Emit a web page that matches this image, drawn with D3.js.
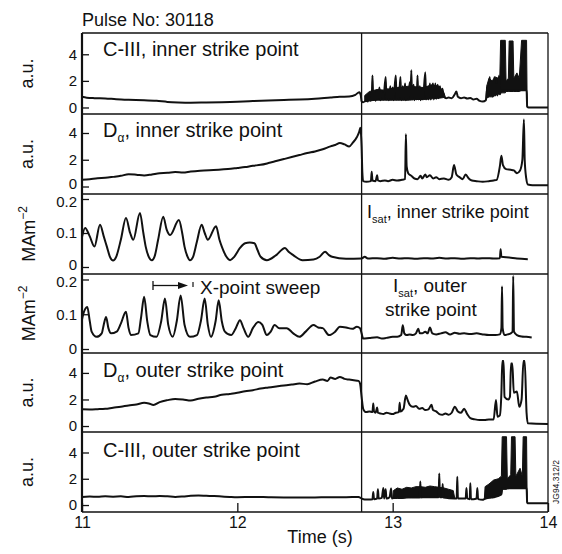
<!DOCTYPE html>
<html><head><meta charset="utf-8">
<script src="https://cdn.jsdelivr.net/npm/d3@7"></script>
<style>
body{margin:0;background:#fff}
svg{display:block}
text{font-family:"Liberation Sans",Arial,Helvetica,sans-serif;fill:#111}
</style>
</head><body>
<svg id="chart" width="562" height="554"></svg>
<script>
// ---------------- DATA (time in s, value) ----------------
const timeTicks = [11, 12, 13, 14];
const auTicks = [0, 2, 4];
const isatTicks = [0, 0.1, 0.2];
const transitionTime = 12.8;

const ciiiInner = [[11.00,0.80],[11.03,0.74],[11.08,0.70],[11.15,0.68],[11.22,0.62],[11.30,0.58],[11.40,0.55],[11.48,0.50],[11.55,0.42],[11.62,0.38],[11.70,0.36],[11.80,0.38],[11.90,0.40],[12.00,0.44],[12.10,0.48],[12.20,0.52],[12.30,0.56],[12.40,0.60],[12.50,0.66],[12.60,0.75],[12.66,0.80],[12.72,0.82],[12.76,0.95],[12.785,1.15],[12.795,0.90],[12.80,0.45],[12.81,0.40],
[12.83,0.50],[12.84,0.45],[12.85,0.90],[12.855,0.50],[12.865,0.60],[12.87,2.40],[12.875,0.60],[12.885,1.20],[12.89,0.50],[12.90,1.30],[12.905,0.60],[12.915,1.50],[12.92,0.55],[12.93,1.20],[12.94,0.60],[12.955,2.30],[12.96,0.60],[12.97,1.40],[12.975,0.55],[12.985,1.60],[12.99,0.60],[13.00,1.50],[13.005,0.55],[13.02,2.40],[13.025,0.60],[13.035,1.50],[13.04,0.60],[13.05,2.30],[13.055,0.55],[13.065,1.60],[13.07,0.60],[13.08,1.80],[13.085,0.55],[13.095,1.40],[13.10,0.60],[13.11,1.90],[13.115,0.60],[13.12,2.80],[13.125,0.60],[13.135,1.70],[13.14,0.55],[13.15,1.50],[13.155,0.60],[13.16,2.40],[13.165,0.60],[13.175,1.60],[13.18,0.55],[13.19,1.40],[13.195,0.60],[13.21,2.65],[13.215,0.60],[13.225,1.50],[13.23,0.60],[13.24,1.80],[13.245,0.60],[13.255,1.50],[13.26,1.80],[13.265,0.60],[13.275,1.80],[13.28,0.65],[13.29,1.70],[13.295,0.70],[13.305,1.60],[13.31,0.80],[13.32,1.40],[13.33,0.80],[13.345,0.70],[13.36,0.75],[13.38,0.70],[13.40,1.00],[13.41,1.20],[13.42,0.80],[13.44,0.70],[13.46,0.75],[13.48,0.68],[13.50,0.72],[13.52,0.60],[13.54,0.65],[13.56,0.50],[13.58,0.45],[13.60,0.55],[13.61,1.50],[13.615,0.80],[13.625,2.30],[13.63,0.90],[13.64,2.00],[13.645,0.80],[13.655,2.30],[13.66,0.90],[13.67,1.80],[13.675,0.90],[13.685,2.40],[13.69,1.00],[13.70,1.30],[13.862,1.30],[13.866,0.05],[13.875,0.00],[14.00,0.00]];
const ciiiInnerBand = [[12.82,0.50,0.90],[12.85,0.50,1.20],[12.90,0.55,1.35],[12.95,0.55,1.30],[13.00,0.55,1.45],[13.05,0.55,1.50],[13.10,0.55,1.60],[13.15,0.60,1.55],[13.20,0.60,1.50],[13.25,0.65,1.70],[13.30,0.70,1.60],[13.33,0.75,1.10],[13.34,0.75,0.75],null,
[13.600,0.55,0.55],[13.605,0.70,1.60],[13.62,0.80,2.20],[13.64,0.80,2.00],[13.66,0.90,2.30],[13.68,1.00,2.20],[13.69,1.00,2.40],[13.695,1.10,5.05],[13.725,1.10,5.05],[13.73,1.20,2.00],[13.745,1.20,2.20],[13.75,1.20,5.00],[13.775,1.20,5.00],[13.78,1.20,2.20],[13.80,1.20,2.60],[13.815,1.20,2.20],[13.83,1.30,5.05],[13.862,1.30,5.05],[13.866,0.05,0.05]];

const dalphaInner = [[11.00,0.50],[11.05,0.55],[11.10,0.62],[11.15,0.65],[11.20,0.72],[11.25,0.80],[11.30,0.92],[11.35,0.88],[11.40,0.82],[11.45,0.90],[11.50,1.00],[11.55,1.02],[11.60,1.08],[11.65,1.05],[11.70,1.12],[11.76,1.18],[11.82,1.22],[11.88,1.25],[11.94,1.30],[12.00,1.38],[12.05,1.45],[12.10,1.55],[12.15,1.62],[12.20,1.75],[12.25,1.90],[12.30,2.05],[12.35,2.20],[12.40,2.35],[12.45,2.50],[12.50,2.62],[12.55,2.78],[12.60,3.00],[12.63,3.10],[12.66,3.25],[12.69,3.15],[12.72,3.00],[12.745,3.30],[12.77,3.70],[12.785,4.10],[12.792,4.40],[12.80,3.00],[12.805,1.00],[12.81,0.40],
[12.83,0.35],[12.86,0.40],[12.865,1.10],[12.87,0.45],[12.89,0.40],[12.90,0.85],[12.905,0.45],[12.92,0.40],[12.95,0.45],[12.97,0.40],[13.00,0.50],[13.03,0.45],[13.06,0.50],[13.08,0.55],[13.085,3.90],[13.09,1.50],[13.10,1.00],[13.12,0.80],[13.14,0.60],[13.16,0.55],[13.18,0.80],[13.19,0.60],[13.21,0.90],[13.22,0.70],[13.24,0.85],[13.26,0.60],[13.28,0.70],[13.30,0.55],[13.33,0.60],[13.36,0.50],[13.38,0.70],[13.395,1.60],[13.41,0.90],[13.43,0.70],[13.45,0.55],[13.47,0.90],[13.49,0.60],[13.51,0.45],[13.54,0.40],[13.58,0.35],[13.62,0.40],[13.65,0.45],[13.67,0.50],[13.69,1.50],[13.70,2.30],[13.71,1.60],[13.73,1.30],[13.76,1.25],[13.78,1.20],[13.80,1.00],[13.82,1.20],[13.835,2.00],[13.845,5.00],[13.85,2.00],[13.86,0.60],[13.87,0.15],[13.90,0.10],[14.00,0.10]];

const isatInner = [[11.00,0.088],[11.02,0.115],[11.05,0.090],[11.08,0.060],[11.116,0.124],[11.14,0.090],[11.16,0.060],[11.18,0.030],[11.20,0.019],[11.22,0.030],[11.25,0.080],[11.283,0.144],[11.31,0.100],[11.33,0.080],[11.373,0.159],[11.395,0.100],[11.41,0.060],[11.43,0.030],[11.45,0.020],[11.47,0.035],[11.49,0.080],[11.523,0.148],[11.545,0.110],[11.567,0.094],[11.624,0.138],[11.645,0.100],[11.66,0.060],[11.68,0.030],[11.695,0.020],[11.715,0.030],[11.74,0.075],[11.77,0.124],[11.79,0.100],[11.81,0.080],[11.863,0.120],[11.885,0.080],[11.90,0.060],[11.93,0.030],[11.953,0.020],[11.98,0.030],[12.017,0.056],[12.05,0.070],[12.08,0.072],[12.11,0.070],[12.13,0.050],[12.15,0.030],[12.19,0.020],[12.25,0.035],[12.307,0.056],[12.33,0.045],[12.36,0.035],[12.42,0.020],[12.49,0.022],[12.53,0.030],[12.565,0.045],[12.59,0.035],[12.61,0.030],[12.70,0.024],[12.80,0.025],
[12.82,0.030],[12.84,0.025],[12.90,0.026],[12.95,0.024],[13.00,0.027],[13.05,0.025],[13.10,0.026],[13.15,0.024],[13.20,0.026],[13.25,0.025],[13.30,0.027],[13.35,0.025],[13.40,0.026],[13.45,0.024],[13.50,0.026],[13.55,0.025],[13.60,0.026],[13.65,0.025],[13.69,0.026],[13.695,0.052],[13.70,0.030],[13.75,0.028],[13.80,0.025],[13.87,0.023]];

const isatOuter = [[11.00,0.085],[11.008,0.100],[11.034,0.121],[11.05,0.080],[11.062,0.050],[11.094,0.035],[11.127,0.045],[11.14,0.070],[11.155,0.092],[11.17,0.060],[11.187,0.045],[11.223,0.050],[11.25,0.073],[11.283,0.107],[11.30,0.060],[11.315,0.040],[11.363,0.045],[11.38,0.090],[11.40,0.150],[11.42,0.080],[11.44,0.040],[11.48,0.035],[11.51,0.080],[11.534,0.145],[11.555,0.070],[11.584,0.035],[11.61,0.080],[11.635,0.154],[11.66,0.070],[11.695,0.035],[11.74,0.040],[11.765,0.080],[11.79,0.145],[11.81,0.070],[11.83,0.035],[11.86,0.080],[11.88,0.140],[11.90,0.080],[11.92,0.050],[11.96,0.040],[11.99,0.060],[12.017,0.083],[12.04,0.060],[12.07,0.035],[12.10,0.060],[12.135,0.078],[12.16,0.070],[12.19,0.040],[12.215,0.050],[12.24,0.069],[12.27,0.060],[12.318,0.060],[12.36,0.045],[12.40,0.035],[12.44,0.050],[12.49,0.069],[12.52,0.062],[12.55,0.060],[12.59,0.040],[12.63,0.050],[12.66,0.064],[12.70,0.062],[12.74,0.058],[12.77,0.064],[12.79,0.060],[12.80,0.045],[12.81,0.030],
[12.85,0.032],[12.90,0.034],[12.93,0.030],[12.96,0.032],[13.00,0.035],[13.03,0.035],[13.055,0.040],[13.065,0.068],[13.075,0.045],[13.09,0.040],[13.11,0.042],[13.13,0.040],[13.15,0.045],[13.165,0.058],[13.175,0.045],[13.19,0.045],[13.21,0.050],[13.225,0.045],[13.24,0.062],[13.255,0.045],[13.28,0.042],[13.31,0.045],[13.34,0.048],[13.37,0.042],[13.40,0.047],[13.43,0.044],[13.46,0.045],[13.50,0.043],[13.54,0.045],[13.58,0.042],[13.62,0.040],[13.66,0.040],[13.69,0.042],[13.70,0.060],[13.704,0.180],[13.708,0.060],[13.72,0.040],[13.74,0.042],[13.76,0.045],[13.772,0.050],[13.776,0.210],[13.781,0.050],[13.80,0.040],[13.83,0.036],[13.86,0.035],[13.895,0.033]];

const dalphaOuter = [[11.00,1.26],[11.05,1.25],[11.10,1.27],[11.15,1.30],[11.20,1.38],[11.25,1.45],[11.30,1.55],[11.35,1.62],[11.40,1.75],[11.43,1.70],[11.46,1.58],[11.50,1.80],[11.55,1.95],[11.60,2.04],[11.65,2.00],[11.70,1.92],[11.75,2.05],[11.80,2.15],[11.85,2.20],[11.90,2.35],[11.95,2.42],[12.00,2.50],[12.05,2.62],[12.10,2.70],[12.15,2.82],[12.20,2.90],[12.25,2.98],[12.30,3.05],[12.35,3.12],[12.40,3.20],[12.45,3.15],[12.50,3.35],[12.55,3.50],[12.58,3.40],[12.60,3.65],[12.63,3.55],[12.66,3.70],[12.69,3.55],[12.72,3.50],[12.75,3.45],[12.78,3.40],[12.79,3.20],[12.80,2.20],[12.81,1.30],[12.82,1.10],
[12.83,1.05],[12.85,1.10],[12.87,1.05],[12.875,1.70],[12.88,1.10],[12.89,1.00],[12.90,1.40],[12.905,1.00],[12.92,0.95],[12.94,0.90],[12.96,1.00],[12.98,0.95],[13.00,0.90],[13.02,1.00],[13.04,1.05],[13.045,1.75],[13.05,1.10],[13.07,1.30],[13.085,2.30],[13.095,2.00],[13.11,1.60],[13.13,1.45],[13.15,1.50],[13.17,1.30],[13.19,1.35],[13.21,1.20],[13.23,1.25],[13.25,1.60],[13.26,1.20],[13.28,1.10],[13.30,0.90],[13.32,0.85],[13.34,0.95],[13.36,0.85],[13.38,1.00],[13.40,1.45],[13.42,1.10],[13.44,1.00],[13.46,1.30],[13.48,0.90],[13.50,0.60],[13.53,0.50],[13.56,0.45],[13.59,0.45],[13.62,0.50],[13.65,0.50],[13.665,1.96],[13.675,0.70],[13.69,0.80],[13.70,2.50],[13.706,4.90],[13.714,4.90],[13.72,2.20],[13.745,2.00],[13.755,2.20],[13.762,4.70],[13.77,4.70],[13.78,2.50],[13.80,2.60],[13.815,1.45],[13.83,2.00],[13.842,4.90],[13.85,4.90],[13.862,1.00],[13.87,0.20],[14.00,0.15]];

const ciiiOuter = [[11.00,0.62],[11.05,0.65],[11.10,0.63],[11.15,0.66],[11.20,0.64],[11.25,0.66],[11.30,0.62],[11.35,0.66],[11.40,0.68],[11.45,0.66],[11.50,0.69],[11.55,0.66],[11.60,0.62],[11.65,0.65],[11.70,0.70],[11.75,0.72],[11.80,0.70],[11.85,0.68],[11.90,0.65],[11.95,0.62],[12.00,0.60],[12.10,0.62],[12.20,0.60],[12.30,0.58],[12.40,0.57],[12.50,0.58],[12.60,0.60],[12.70,0.60],[12.78,0.62],[12.80,0.50],[12.82,0.43],[12.85,0.42],[12.87,0.44],
[12.875,1.00],[12.88,0.45],[12.90,0.50],[12.905,1.20],[12.91,0.50],[12.93,0.55],[12.94,1.30],[12.945,0.50],[12.955,1.20],[12.96,0.50],[12.98,0.60],[12.99,1.25],[12.995,0.50],[13.02,0.60],[13.05,0.55],[13.10,0.60],[13.174,0.60],[13.178,1.80],[13.182,0.60],[13.25,0.60],[13.296,0.60],[13.30,2.40],[13.304,0.60],[13.318,0.60],[13.322,1.60],[13.326,0.60],[13.40,0.50],[13.412,0.50],[13.416,2.15],[13.42,0.50],[13.45,0.50],[13.47,0.50],[13.475,1.30],[13.48,0.50],[13.496,0.45],[13.50,1.65],[13.504,0.45],[13.52,0.45],[13.54,0.50],[13.545,1.30],[13.55,0.45],[13.58,0.40],[13.59,0.45],[13.62,0.55],[13.65,0.60],[13.70,0.80],[13.705,1.25],[13.862,1.30],[13.866,0.20],[13.87,0.13],[14.00,0.13]];
const ciiiOuterBand = [[13.00,0.50,0.50],[13.005,0.50,1.10],[13.03,0.50,1.30],[13.06,0.50,1.20],[13.09,0.55,1.35],[13.12,0.55,1.30],[13.15,0.55,1.40],[13.18,0.55,1.40],[13.21,0.60,1.35],[13.24,0.60,1.45],[13.27,0.60,1.40],[13.30,0.60,1.35],[13.33,0.55,1.30],[13.36,0.55,1.20],[13.39,0.50,1.10],[13.40,0.50,0.50],null,
[13.59,0.45,0.45],[13.595,0.50,1.40],[13.62,0.55,1.60],[13.65,0.60,1.90],[13.68,0.70,2.00],[13.70,0.80,2.20],[13.705,1.20,5.20],[13.733,1.20,5.20],[13.738,1.30,2.00],[13.76,1.30,2.30],[13.765,1.30,5.20],[13.788,1.30,5.20],[13.793,1.30,2.20],[13.82,1.30,2.80],[13.835,1.30,2.20],[13.84,1.30,5.20],[13.862,1.30,5.20],[13.866,0.20,0.20]];

// ---------------- LAYOUT ----------------
const left = 82, right = 548;
const edges = [33, 114, 194, 274, 353, 432, 512];
const panels = [
  {series: ciiiInner, band: ciiiInnerBand, domain: [-0.49, 5.6], ticks: auTicks, unit: "au"},
  {series: dalphaInner, band: null, domain: [-0.56, 5.42], ticks: auTicks, unit: "au"},
  {series: isatInner, band: null, domain: [-0.0206, 0.2147], ticks: isatTicks, unit: "MA"},
  {series: isatOuter, band: null, domain: [-0.0115, 0.2158], ticks: isatTicks, unit: "MA"},
  {series: dalphaOuter, band: null, domain: [-0.45, 5.5], ticks: auTicks, unit: "au"},
  {series: ciiiOuter, band: ciiiOuterBand, domain: [-0.53, 5.56], ticks: auTicks, unit: "au"}
];

const svg = d3.select("#chart");
const x = d3.scaleLinear().domain([11, 14]).range([left, right]);

panels.forEach((p, i) => {
  const top = edges[i], bot = edges[i + 1];
  const y = d3.scaleLinear().domain(p.domain).range([bot, top]);
  const g = svg.append("g");
  const cid = "clip" + i;
  svg.append("clipPath").attr("id", cid).append("rect")
    .attr("x", left).attr("y", top).attr("width", right - left).attr("height", bot - top);
  const plot = g.append("g").attr("clip-path", `url(#${cid})`);
  if (p.band) {
    const area = d3.area().defined(d => d !== null)
      .x(d => x(d[0])).y0(d => y(d[1])).y1(d => y(d[2]));
    plot.append("path").datum(p.band).attr("d", area)
      .attr("fill", "#111").attr("stroke", "#111").attr("stroke-width", 1);
  }
  const line = d3.line().curve(d3.curveMonotoneX).x(d => x(d[0])).y(d => y(d[1]));
  plot.append("path").datum(p.series).attr("d", line)
    .attr("fill", "none").attr("stroke", "#111").attr("stroke-width", 2)
    .attr("stroke-linejoin", "round");
  const ax = d3.axisLeft(y).tickValues(p.ticks).tickSizeInner(-7).tickSizeOuter(0)
    .tickPadding(5).tickFormat(d => String(d));
  const ag = g.append("g").attr("transform", `translate(${left},0)`).call(ax);
  ag.select(".domain").remove();
  ag.selectAll(".tick line").attr("stroke", "#111").attr("stroke-width", 1.3);
  const nextIsIsat = i + 1 < panels.length && panels[i + 1].unit === "MA";
  ag.selectAll(".tick text").attr("font-size", 15).attr("fill", "#111")
    .style("font-family", '"Liberation Sans",Arial,sans-serif')
    .attr("transform", d => (d === 0 && nextIsIsat) ? "translate(0,-2.5)"
                          : (d === 0.2 ? "translate(0,2.5)" : null));
  g.append("line").attr("x1", left).attr("x2", right).attr("y1", top).attr("y2", top)
    .attr("stroke", "#111").attr("stroke-width", 1.3);
  const cy = (top + bot) / 2;
  if (p.unit === "au") {
    svg.append("text").attr("transform", `translate(33,${cy}) rotate(-90)`)
      .attr("text-anchor", "middle").attr("font-size", 18).text("a.u.");
  } else {
    const t = svg.append("text").attr("transform", `translate(35,${cy}) rotate(-90)`)
      .attr("text-anchor", "middle").attr("font-size", 18);
    t.append("tspan").text("MAm");
    t.append("tspan").attr("font-size", 12).attr("dy", -8).text("−2");
  }
});

svg.append("line").attr("x1", left).attr("x2", right).attr("y1", edges[6]).attr("y2", edges[6])
  .attr("stroke", "#111").attr("stroke-width", 1.3);
svg.append("line").attr("x1", right).attr("x2", right).attr("y1", edges[0]).attr("y2", edges[6])
  .attr("stroke", "#111").attr("stroke-width", 1.3);
svg.append("line").attr("x1", left).attr("x2", left).attr("y1", edges[0]).attr("y2", edges[6])
  .attr("stroke", "#111").attr("stroke-width", 2.2);
svg.append("line").attr("x1", x(transitionTime)).attr("x2", x(transitionTime))
  .attr("y1", edges[0]).attr("y2", edges[6]).attr("stroke", "#111").attr("stroke-width", 1.3);

const xa = d3.axisBottom(x).tickValues(timeTicks).tickSizeInner(-9).tickSizeOuter(0)
  .tickPadding(5).tickFormat(d3.format("d"));
const xg = svg.append("g").attr("transform", `translate(0,${edges[6]})`).call(xa);
xg.select(".domain").remove();
xg.selectAll(".tick line").attr("stroke", "#111").attr("stroke-width", 1.3);
xg.selectAll(".tick text").attr("font-size", 16).attr("fill", "#111")
  .style("font-family", '"Liberation Sans",Arial,sans-serif');

svg.append("text").attr("x", 320).attr("y", 543).attr("text-anchor", "middle")
  .attr("font-size", 18).text("Time (s)");
svg.append("text").attr("x", 82).attr("y", 26).attr("font-size", 18).text("Pulse No: 30118");

function plain(xp, yp, s, fs) {
  svg.append("text").attr("x", xp).attr("y", yp).attr("font-size", fs).text(s);
}
function sub(xp, yp, main, subs, rest, fs) {
  const t = svg.append("text").attr("x", xp).attr("y", yp).attr("font-size", fs);
  t.append("tspan").text(main);
  t.append("tspan").attr("font-size", Math.round(fs * 0.6)).attr("dy", 5).text(subs);
  t.append("tspan").attr("dy", -5).text(rest);
}
plain(103, 56, "C-III, inner strike point", 20);
sub(103, 137, "D", "α", ", inner strike point", 20);
sub(367, 218, "I", "sat", ", inner strike point", 18);
sub(393, 292, "I", "sat", ", outer", 19);
plain(385, 316, "strike point", 19);
sub(103, 377, "D", "α", ", outer strike point", 20);
plain(103, 457, "C-III, outer strike point", 20);

// X-point sweep marker
svg.append("line").attr("x1", 153).attr("x2", 153).attr("y1", 281).attr("y2", 290)
  .attr("stroke", "#111").attr("stroke-width", 1.3);
svg.append("line").attr("x1", 153).attr("x2", 180).attr("y1", 285.5).attr("y2", 285.5)
  .attr("stroke", "#111").attr("stroke-width", 1.3);
svg.append("path").attr("d", "M178,282 L188,285.5 L178,289 Z").attr("fill", "#111");
svg.append("line").attr("x1", 193).attr("x2", 193).attr("y1", 282).attr("y2", 287)
  .attr("stroke", "#111").attr("stroke-width", 1.2);
svg.append("text").attr("x", 200).attr("y", 294).attr("font-size", 19).text("X-point sweep");

svg.append("text").attr("transform", "translate(559,482) rotate(-90)")
  .attr("text-anchor", "middle").attr("font-size", 8.5).text("JG94.312/2");
</script>
</body></html>
